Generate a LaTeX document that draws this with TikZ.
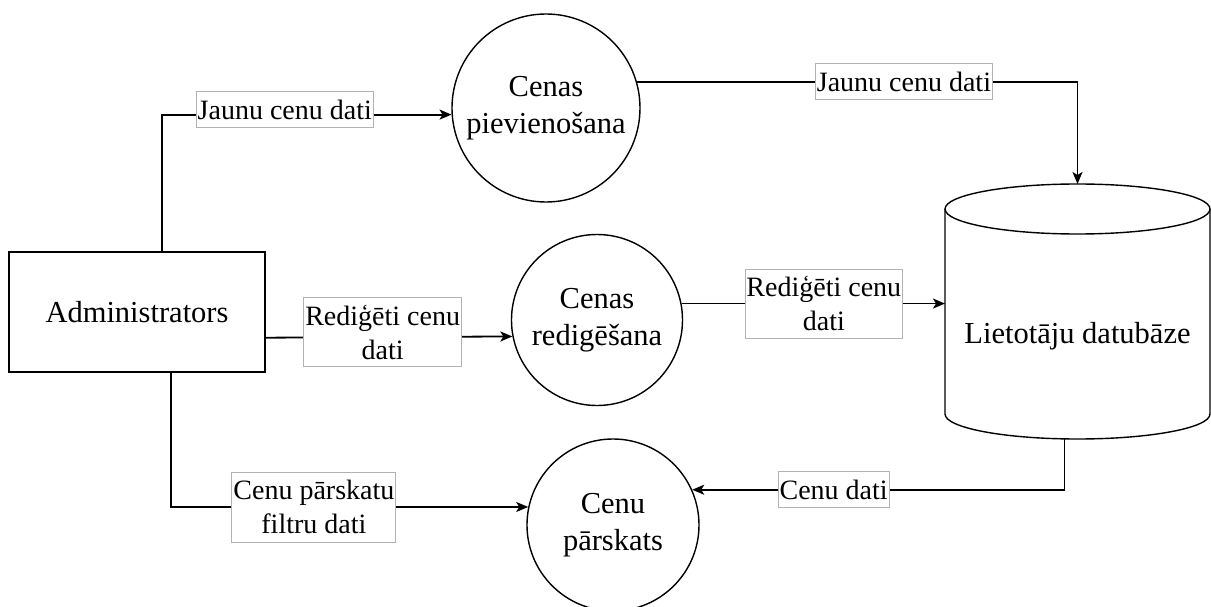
\documentclass[tikz,border=0pt]{standalone}
\usepackage{fontspec}
\setmainfont{Liberation Serif}
\usetikzlibrary{arrows.meta,calc}
\begin{document}
\begin{tikzpicture}[x=1pt,y=-1pt,
  shp/.style={draw=black,line width=1.4pt,fill=white},
  bigtext/.style={font=\fontsize{30.5}{36.6}\selectfont},
  proc/.style={shp,circle,inner sep=0pt,align=center,bigtext},
  ent/.style={shp,rectangle,minimum width=256pt,minimum height=120pt,bigtext},
  lbl/.style={draw=black!30,line width=0.8pt,fill=white,inner sep=1.5pt,align=center,font=\fontsize{28}{34}\selectfont,minimum height=36pt},
  flow/.style={draw=black,line width=1.8pt,-{Stealth[length=12pt,width=10pt,inset=3pt]}}]
\useasboundingbox (0,0) rectangle (1211,607);
\fill[white] (0,0) rectangle (1211,607);

\node[ent] (admin) at (137,312) {Administrators};
\node[proc,minimum size=188pt] (c1) at (546,108) {Cenas\\pievienošana};
\node[proc,minimum size=171pt] (c2) at (597,320) {Cenas\\redigēšana};
\node[proc,minimum size=172pt] (c3) at (613,525) {Cenu\\pārskats};
\node[minimum width=265pt,minimum height=255pt,inner sep=0pt,outer sep=0pt] (db) at (1077.5,311.5) {};
\path[shp] (945,209) -- (945,414) arc[start angle=180,end angle=360,x radius=132.5pt,y radius=25pt] -- (1210,209) arc[start angle=0,end angle=180,x radius=132.5pt,y radius=25pt] -- cycle;
\draw[line width=1.4pt] (945,209) arc[start angle=180,end angle=360,x radius=132.5pt,y radius=25pt];
\node[bigtext] (dbtext) at (1077.5,336) {Lietotāju datubāze};

\draw[flow] ($(admin.north)+(25,0)$) |- node[lbl,pos=0.712,yshift=5pt]{Jaunu cenu dati} (c1.184.9);
\draw[flow] (c1.16.7) -| node[lbl,pos=0.303]{Jaunu cenu dati} (db.north);
\draw[flow] ($(admin.south east)+(0,-35)$) -- node[lbl,pos=0.474,yshift=5pt,minimum height=69pt]{Rediģēti cenu\\dati} (c2.191.5);
\draw[flow] (c2.11.5) -- node[lbl,pos=0.54,minimum height=69pt]{Rediģēti cenu\\dati} (c2.11.5 -| db.west);
\draw[flow] ($(admin.south)+(34,0)$) |- node[lbl,pos=0.7,minimum height=70pt]{Cenu pārskatu\\filtru dati} (c3.168.1);
\draw[flow] ($(db.south)+(-13,0)$) |- node[lbl,pos=0.81]{Cenu dati} (c3.24);
\end{tikzpicture}
\end{document}
